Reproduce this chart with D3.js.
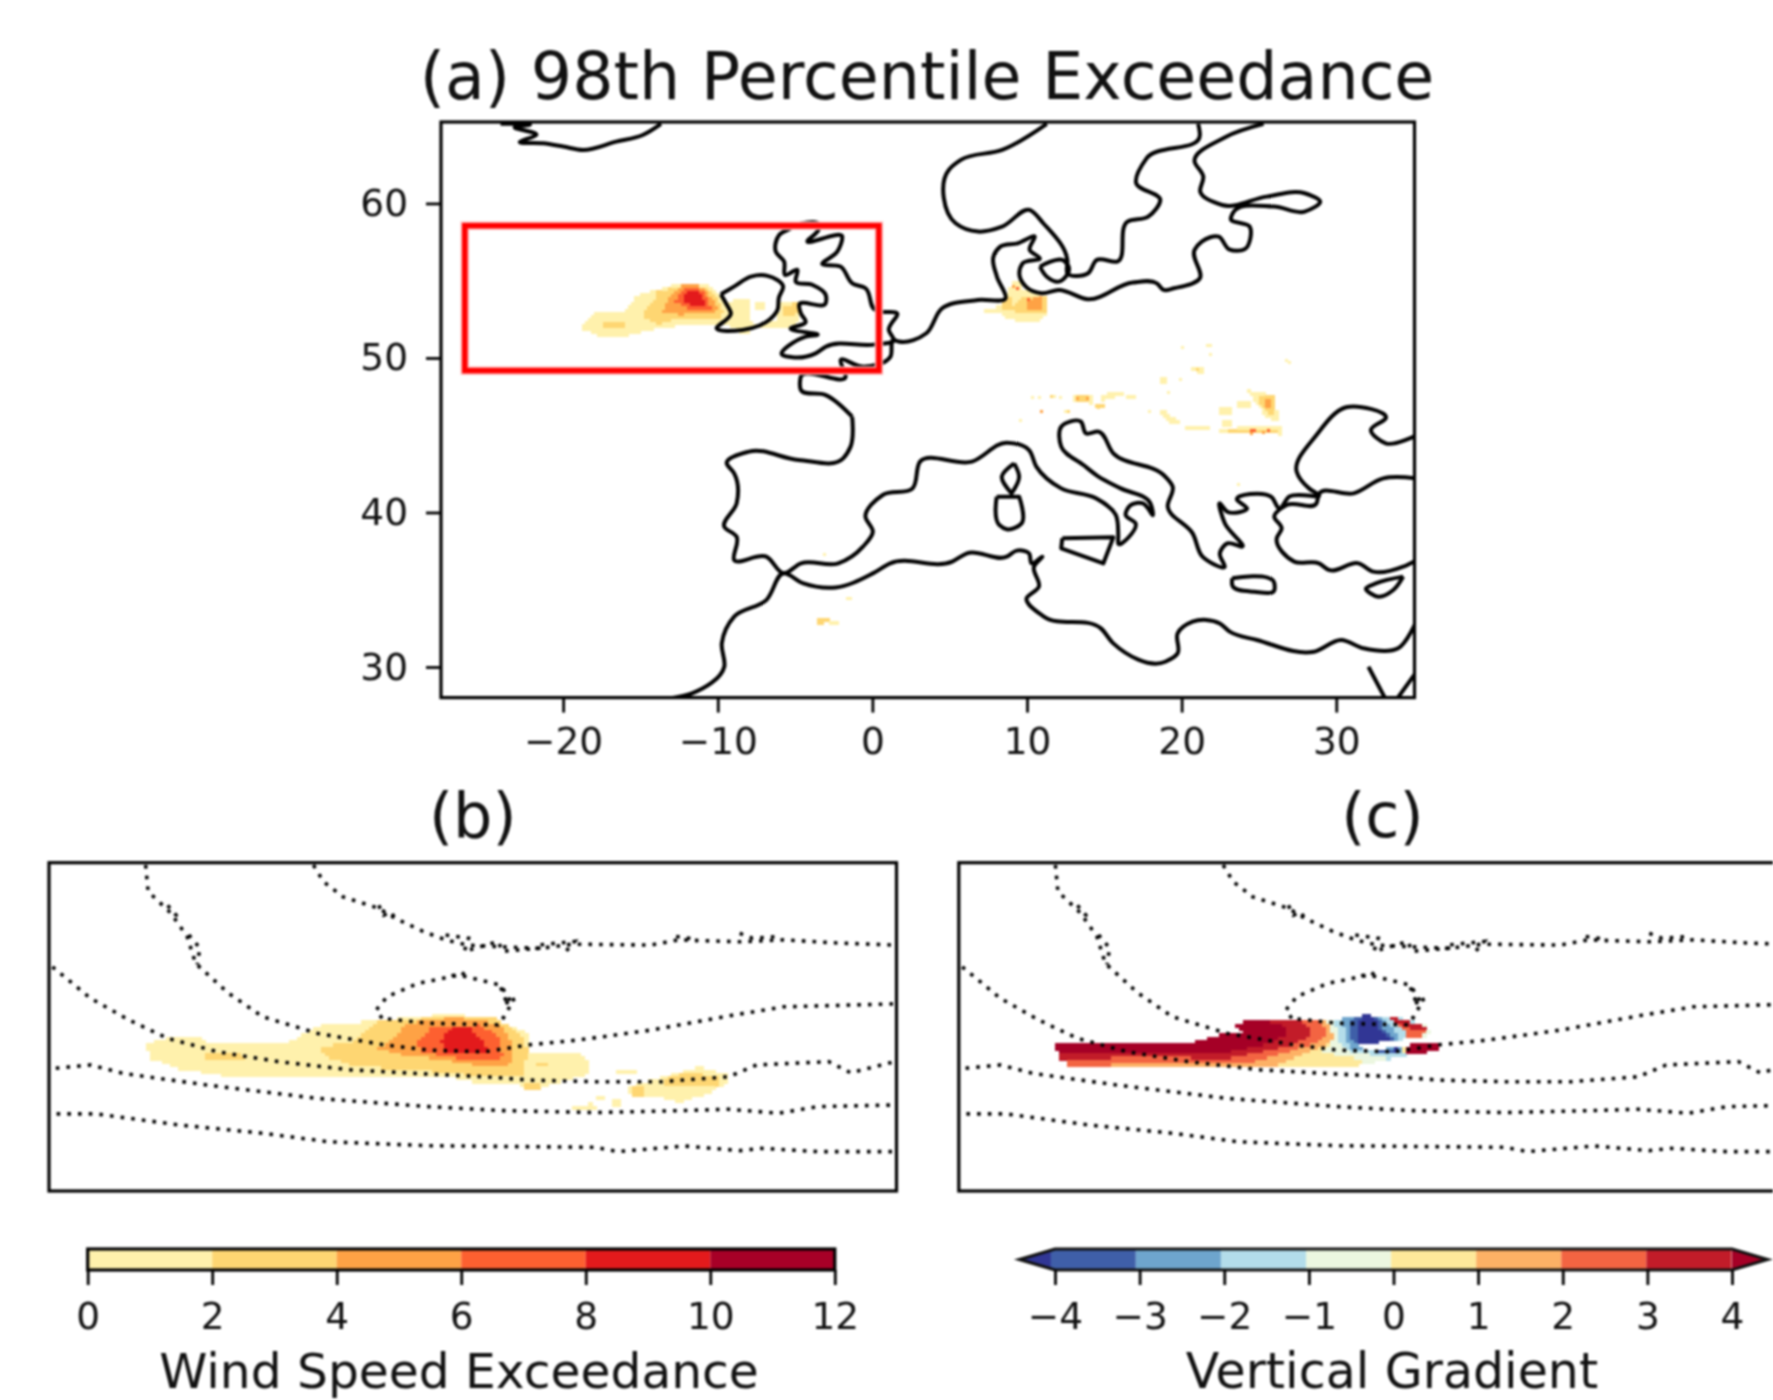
<!DOCTYPE html>
<html>
<head>
<meta charset="utf-8">
<script src="https://cdn.jsdelivr.net/npm/d3@7"></script>
<style>
  html, body { margin: 0; background: #fff; }
  svg { display: block; filter: blur(0.85px); }
  text { font-family: "DejaVu Sans", sans-serif; fill: #111; }
</style>
</head>
<body>
<svg width="1773" height="1400"></svg>
<script>
// ----------------------------------------------------------
//                  data
// ----------------------------------------------------------
const lonTicks = [-20, -10, 0, 10, 20, 30];
const latTicks = [30, 40, 50, 60];
const windBounds = [0, 2, 4, 6, 8, 10, 12];
const windColors = ['#fff1ac', '#fed672', '#fea245', '#fd6030', '#e31a1c', '#a70027'];
const gradBounds = [-4, -3, -2, -1, 0, 1, 2, 3, 4];
const gradColors = ['#3f5fa8', '#6ea5cd', '#b3ddea', '#ecf7e0', '#fee99a', '#fdb165', '#f36442', '#c21c29'];
const gradLow = '#313695';
const gradHigh = '#a50026';
const redBox = { lon: [-26.36, 0.42], lat: [49.18, 58.56] };

// coastlines, lon / lat
const iceland = [[-24.05, 65.15], [-22.16, 65.1], [-23.13, 64.93], [-21.73, 64.45], [-22.8, 63.98], [-21.3, 63.89], [-20, 63.68], [-18.72, 63.46], [-16.57, 64], [-14.85, 64.43], [-13.67, 65.15]];
const ireland = [[-9.8, 54.12], [-8.9, 54.65], [-7.86, 55.26], [-6.78, 55.31], [-5.77, 54.62], [-6.05, 53.9], [-6.14, 53.1], [-6.68, 52.46], [-7.3, 52.1], [-8.4, 51.81], [-10.08, 51.92], [-9.15, 52.9], [-9.45, 53.5], [-9.8, 54.12]];
const britain = [[-4.96, 58.6], [-5.28, 58.39], [-6.03, 57.96], [-6.25, 56.88], [-5.71, 56.24], [-5.65, 55.37], [-4.85, 55.7], [-4.96, 54.94], [-3.88, 54.73], [-3.02, 54.08], [-3.02, 53.54], [-4.74, 53.43], [-4.63, 52.89], [-4.31, 52.35], [-5.28, 51.92], [-3.56, 51.49], [-4.31, 51.38], [-5.82, 50.19], [-5.17, 50.04], [-3.67, 50.3], [-3.02, 50.73], [0.2, 50.88], [1.39, 51.16], [1.06, 51.81], [1.6, 52.89], [0.53, 53], [0.2, 53.1], [-0.44, 54.51], [-1.3, 54.83], [-2.05, 55.91], [-3.24, 56.08], [-2.27, 56.88], [-1.95, 57.85], [-4.2, 57.57], [-3.45, 58.39], [-3.45, 58.6], [-4.96, 58.6]];
const scandinavia = [[11.28, 65.15], [8.39, 63.46], [5.72, 62.82], [4.94, 62.17], [5.38, 58.72], [6.83, 58.18], [8.39, 58.5], [10.17, 59.58], [11.05, 58.72], [12.61, 56.34], [12.61, 55.48], [13.95, 55.48], [14.5, 56.34], [15.84, 56.24], [16.5, 58.82], [17.84, 59.15], [18.62, 60.23], [17.06, 61.3], [17.73, 62.92], [21.18, 64.43], [21.07, 65.15]];
const balticToBiscay = [[25.3, 65.15], [22.85, 64.3], [20.84, 62.7], [21.4, 61.74], [21.2, 60.77], [22.62, 59.9], [25.5, 60.44], [27.96, 60.66], [28.96, 60.12], [27.96, 59.47], [25.96, 59.8], [23.3, 59.36], [23.18, 59.04], [24.4, 58.5], [24.07, 57.03], [23.07, 57.03], [22.4, 57.85], [21.3, 57.53], [20.84, 57], [21.18, 55.16], [19.5, 54.51], [18.84, 54.4], [18.4, 54.83], [16.84, 54.88], [13.95, 53.8], [12.05, 54.4], [10.94, 54.19], [9.94, 54.6], [9.5, 55.48], [9.72, 56.13], [10.83, 56.45], [10.17, 57], [10.5, 57.85], [9.39, 57.42], [8.27, 57.2], [7.83, 56.56], [8.05, 55.27], [8.61, 53.86], [6.83, 53.75], [4.49, 53.2], [3.49, 51.6], [1.71, 51.06], [1.39, 51.16], [1.17, 50.09], [-0.66, 49.44], [-2.05, 49.87], [-1.73, 48.79], [-4.63, 48.79], [-4.63, 47.93], [-3.02, 47.6], [-1.31, 46.2]];
const iberiaToCrimea = [[-1.31, 46.2], [-1.41, 44.26], [-1.89, 43.5], [-4.78, 43.4], [-7.98, 43.94], [-9.42, 43.18], [-8.94, 42.53], [-8.78, 40.59], [-9.58, 39.08], [-8.78, 38.43], [-8.94, 36.92], [-6.86, 37.14], [-5.74, 36.06], [-4.62, 36.71], [-2.21, 36.71], [-0.61, 37.79], [0.03, 38.76], [-0.45, 39.73], [0.67, 41.13], [2.6, 41.56], [3.08, 43.29], [6.44, 43.29], [8.69, 44.52], [10.13, 44.04], [10.6, 42.97], [12.21, 41.56], [14.46, 40.92], [15.74, 39.84], [15.9, 38.54], [15.9, 38], [17.02, 39.3], [16.38, 39.84], [16.7, 40.48], [17.5, 40.59], [18.14, 39.84], [17.98, 40.59], [16.06, 41.56], [14.62, 42.32], [13.65, 43.07], [12.21, 44.26], [12.21, 45.55], [13.49, 45.88], [13.81, 45.12], [14.62, 45.23], [15.58, 43.83], [18.94, 42.32], [19.42, 41.67], [19.1, 40.38], [20.71, 38.65], [21.35, 37.14], [22.79, 36.49], [22.47, 37.36], [22.95, 38], [23.91, 37.79], [22.79, 39.3], [22.47, 40.59], [22.95, 40.05], [24.23, 40.27], [23.59, 40.81], [25.83, 40.98], [26.31, 40.27], [26.95, 41.02], [28.88, 41.13], [28.24, 41.56], [27.44, 42.64], [28.72, 45.01], [30.64, 46.81], [33.2, 46.09], [32.24, 45.34], [33.2, 44.48], [35.2, 45.01]];
const turkey = [[35.2, 42.21], [33.04, 42.21], [31.12, 41.24], [28.88, 41.2], [28.72, 40.59], [26.79, 40.48], [25.99, 39.73], [26.47, 38.97], [26.15, 38.33], [27.28, 36.82], [28.88, 36.71], [29.52, 36.28], [31.44, 36.71], [32.4, 36.17], [34.33, 36.49], [35.2, 36.92]];
const africa = [[-13.11, 27.97], [-11.67, 28.29], [-9.58, 30.02], [-9.74, 31.53], [-8.94, 33.26], [-6.86, 34.33], [-5.74, 36.06], [-4.46, 35.41], [-2.37, 35.15], [0.03, 36.06], [1.15, 36.71], [5.16, 36.82], [6.12, 37.36], [8.69, 37.14], [9.33, 37.53], [10.13, 37.36], [10.29, 36.71], [10.99, 37.14], [10.45, 36.49], [10.77, 35.2], [9.97, 34.44], [11.09, 33.26], [14.78, 32.5], [15.58, 31.53], [18.94, 30.34], [19.74, 30.88], [19.74, 32.18], [20.71, 32.93], [22.47, 32.82], [23.11, 32.29], [24.87, 31.75], [28.56, 30.99], [30.32, 31.75], [31.76, 31.21], [34, 31.21], [35.2, 33]];
const suezWest = [[32.08, 30.02], [33.2, 27.9]];
const suezEast = [[33.9, 27.9], [35.2, 29.7]];
const zealand = [[10.83, 55.91], [12.39, 56.3], [12.72, 55.8], [12.05, 54.94], [11.28, 55.26], [10.83, 55.91]];
const sardinia = [[8.04, 41.02], [8.04, 41.02], [9.49, 41.02], [9.49, 41.02], [9.65, 39.3], [8.69, 38.91], [8.21, 39.19], [8.04, 41.02]];
const corsica = [[9.17, 43.18], [8.37, 42.32], [9, 41.24], [9, 41.24], [9.49, 42.32], [9.17, 43.18]];
const sicily = [[12.28, 38.33], [12.28, 38.33], [15.58, 38.39], [15.58, 38.39], [14.94, 36.71], [14.94, 36.71], [12.21, 37.68], [12.21, 37.68], [12.28, 38.33]];
const crete = [[23.27, 35.74], [26, 35.41], [26, 34.98], [24.71, 34.87], [23.27, 35.3], [23.27, 35.74]];
const cyprus = [[34.33, 35.85], [33.69, 34.98], [32.72, 34.55], [31.92, 35.09], [32.56, 35.41], [34.33, 35.85]];
const coastlines = [iceland, ireland, britain, scandinavia, balticToBiscay, iberiaToCrimea, turkey, africa, suezWest, suezEast, zealand, sardinia, corsica, sicily, crete, cyprus];

// wind speed exceedance on the map: [colour band, outline in lon / lat]
const mapPatches = [
    [0, [[-18.76, 52.24], [-18.76, 51.92], [-17.86, 51.49], [-15.82, 51.49], [-13.77, 52.03], [-11.09, 52.24], [-9.47, 52.24], [-8.19, 51.49], [-7.97, 51.92], [-6.79, 51.92], [-5.39, 52.03], [-4.85, 52.46], [-4.74, 53.64], [-5.92, 53.64], [-6.25, 52.46], [-7.32, 52.13], [-8.08, 52.46], [-8.08, 53.86], [-8.61, 53.86], [-9.47, 53.43], [-9.9, 54.07], [-10.76, 54.83], [-12.59, 54.83], [-13.99, 54.4], [-15.17, 54.07], [-15.92, 53.1], [-18.07, 52.89]]],
    [0, [[-7.6, 53.65], [-7.0, 53.65], [-7.0, 53.2], [-7.6, 53.2]]],
    [1, [[-14.85, 53], [-14.1, 53.75], [-13.99, 54.29], [-12.91, 54.61], [-10.76, 54.61], [-10.12, 53.97], [-9.58, 53.1], [-9.9, 52.67], [-10.98, 52.5], [-12.91, 52.56], [-13.77, 52.24], [-14.85, 52.67]]],
    [1, [[-17.32, 52.35], [-16.03, 52.5], [-16.03, 52.07], [-17.32, 52.03]]],
    [1, [[-5.92, 53.43], [-4.85, 53.53], [-4.91, 52.8], [-5.82, 52.89]]],
    [2, [[-13.52, 53.1], [-13.02, 54.18], [-12.27, 54.79], [-11.3, 54.79], [-10.66, 54.4], [-10.33, 53.75], [-9.95, 53.21], [-10.76, 52.93], [-11.95, 53], [-12.38, 52.78], [-12.8, 53]]],
    [3, [[-12.8, 53.75], [-12.27, 54.51], [-11.19, 54.57], [-10.76, 54.18], [-10.44, 53.15], [-11.73, 53.1], [-12.16, 53.43]]],
    [4, [[-12.23, 54.18], [-11.95, 54.4], [-11.3, 54.4], [-10.98, 53.97], [-10.66, 53.32], [-11.41, 53.32], [-12.23, 53.75]]],
    // German bight
    [0, [[6.94, 53], [8.39, 53.43], [9.05, 54.94], [9.5, 54.94], [9.61, 54.51], [11.05, 53.97], [11.28, 53], [10.72, 52.46], [9.27, 52.46], [8.72, 52.67], [8.16, 53.1]]],
    [1, [[8.27, 53.32], [8.83, 54.18], [9.16, 53.32], [9.72, 54.07], [11.1, 53.92], [11.17, 53.1], [9.94, 52.89], [9.27, 53.1]]],
    [2, [[9.99, 53.86], [11.05, 53.97], [11.05, 53.21], [10.05, 53.1]]],
    // eastern Europe
    [0, [[24.18, 47.93], [25.96, 47.6], [26.18, 45.98], [25.52, 46.2], [24.85, 47.06], [24.4, 47.71]]],
    [1, [[24.96, 47.6], [25.96, 47.55], [26.1, 46.2], [25.6, 46.55], [25.05, 47.06]]],
    [2, [[25.4, 47.45], [25.85, 47.45], [25.85, 46.74], [25.4, 46.74]]],
    [0, [[18.46, 46.63], [18.94, 46.52], [19.9, 45.88], [19.26, 45.77]]],
    [0, [[20.22, 45.66], [21.83, 45.66], [21.83, 45.4], [20.22, 45.4]]],
    [0, [[22.3, 45.45], [26.3, 45.6], [26.3, 45.1], [22.3, 45.15]]],
    [1, [[23, 45.42], [26.2, 45.5], [26.2, 45.15], [23, 45.2]]],
    [0, [[23.5, 47.3], [24.5, 47.1], [24.3, 46.75], [23.5, 46.85]]],
    [0, [[18.5, 48.9], [19, 48.9], [19, 48.4], [18.5, 48.4]]],
    [0, [[12.9, 47.7], [14.1, 47.7], [14.1, 47.1], [12.9, 47.2]]],
    [1, [[13.1, 47.65], [13.9, 47.65], [13.9, 47.25], [13.1, 47.3]]],
    [0, [[14.8, 47.6], [16.2, 47.9], [16.1, 47.65], [14.9, 47.25]]],
    [0, [[20.5, 49.55], [21.4, 49.3], [21.4, 49.0], [20.5, 49.2]]],
    [0, [[22.4, 46.85], [23.1, 46.85], [23.1, 46.4], [22.4, 46.4]]],
    [0, [[22.6, 46.1], [23.1, 46.1], [23.1, 45.7], [22.6, 45.7]]],
    [1, [[14.3, 47.0], [14.9, 47.0], [14.9, 46.75], [14.3, 46.75]]],
    [0, [[16.4, 47.7], [16.9, 47.7], [16.9, 47.45], [16.4, 47.45]]],
    // north Africa
    [1, [[-3.56, 33.26], [-2.85, 33.26], [-2.85, 32.95], [-3.56, 32.82]]],
    [0, [[-2.85, 33.1], [-2.2, 33.1], [-2.2, 32.9], [-2.85, 32.9]]]
];
// single map cells: lon, lat, colour band
const mapCells = [
    [19.95, 50.77, 0], [21.58, 50.88, 0], [21.76, 50.88, 0], [21.74, 50.3, 0], [26.85, 49.8, 0], [26.7, 49.95, 0],
    [20.9, 49.33, 1], [19.84, 48.68, 0], [19.07, 47.88, 0], [10.28, 47.54, 0], [10.72, 47.54, 0], [11.5, 47.6, 1], [11.7, 47.6, 0],
    [12.05, 47.54, 0], [13.17, 47.49, 2], [13.84, 47.49, 2], [14.5, 46.89, 1], [10.83, 46.63, 2], [12.61, 46.63, 1], [12.41, 46.63, 0],
    [9.5, 46.03, 0], [17.84, 46.63, 0], [23.6, 41.9, 0], [-3.17, 37.36, 0], [-1.73, 34.55, 0], [-1.53, 34.55, 0],
    [24.4, 45.4, 3], [24.6, 45.4, 3], [25.5, 45.4, 3], [24.4, 45.2, 2], [25.2, 45.3, 2], [9.3, 54.6, 3], [10.0, 53.9, 3], [9.0, 54.7, 2]
];

// wind speed exceedance in the section, percent of frame width / height from top
const sectionWind = [
    [0, [[11.4, 55], [14.4, 53], [17.6, 53], [18.6, 55], [28.4, 54.5], [32.1, 49.4], [38.3, 48.2], [47.4, 45.9], [51.4, 47.4], [56.6, 52], [56.6, 58.1], [62.2, 58.1], [63.8, 61.1], [63.5, 64.4], [60.5, 66.2], [59.2, 67.2], [57.3, 68.7], [55.3, 67.2], [51.4, 67.2], [47.4, 65.2], [38.3, 64.7], [21.9, 65], [15.4, 62.6], [12.1, 59.6]]],
    [0, [[68.4, 68.2], [72.3, 65.2], [76.6, 62.1], [79.9, 64.2], [79.9, 67.2], [76.9, 70.8], [74.3, 72.8], [72.3, 71.3], [69.7, 71.3], [68.4, 69.7]]],
    [0, [[60.9, 74.8], [63.8, 73.3], [64.5, 74.5], [61.8, 75.1]]],
    [0, [[67, 62.8], [69, 62.8], [69, 63.8], [67, 63.8]]],
    [0, [[64.5, 71], [65.5, 71], [65.5, 72], [64.5, 72]]],
    [0, [[66.5, 72.5], [67.5, 72.5], [67.5, 74], [66.5, 74]]],
    [1, [[72.3, 66.2], [75.3, 63.7], [78.9, 65.2], [78.9, 68.2], [76.9, 68.4], [72.3, 67.7]]],
    [1, [[68.7, 68.2], [70.3, 68.2], [70.3, 70.8], [68.7, 70.8]]],
    [1, [[18.6, 58.1], [22.6, 57.6], [23.2, 60.1], [18.6, 60.1]]],
    [1, [[32.1, 56], [35.7, 54.5], [38.9, 48.4], [47.4, 46.9], [52.7, 47.4], [55.6, 52], [56.6, 57.1], [56, 62.1], [56.3, 65.2], [52, 65.2], [44.8, 63.4], [36.3, 62.1], [32.4, 59.1]]],
    [1, [[56, 67.2], [57.9, 67.2], [57.9, 68.7], [56, 68.7]]],
    [1, [[57.6, 61.1], [59, 61.1], [59, 62.1], [57.6, 62.1]]],
    [2, [[38.9, 56.5], [40.9, 53], [42.2, 48.9], [47.4, 47.2], [50.7, 47.9], [53.3, 49.4], [54.5, 54], [54.8, 59.5], [54.2, 61.6], [50, 61.6], [46.8, 60.1], [41.5, 58.6]]],
    [3, [[43.2, 54.9], [45, 50.4], [50.9, 49.4], [53, 53], [53.2, 56.1], [53.6, 59.2], [52.9, 60], [48.1, 59.5], [44.1, 57.7]]],
    [4, [[46.3, 54], [47.7, 50.4], [49.7, 50.4], [51.7, 56.1], [51.8, 58], [46.9, 57.7]]]
];

// vertical gradient in the section: outline, then bands painted over each other
const gradOutline = [[11.34, 56], [11.65, 55.2], [26.83, 55.2], [28.69, 53.8], [31.16, 52], [33.33, 51.5], [32.28, 49.3], [33.95, 48.3], [38.6, 48.2], [46.03, 47.4], [47.89, 46.4], [50.37, 46.9], [52.23, 47.4], [53.78, 48.4], [55.02, 49.4], [55.64, 51.5], [55.02, 52.8], [53.22, 53], [51.3, 54], [49.32, 54.5], [47.15, 55], [47.52, 56.5], [49.32, 57.1], [51.67, 56], [52.85, 55.8], [55.02, 54.7], [56.88, 54.8], [56.57, 56.5], [54.71, 57.9], [52.85, 58.1], [52.23, 58.9], [50.37, 59.9], [48.51, 60.6], [47.15, 61.5], [13.07, 61.6], [12.7, 60.3], [11.65, 59.9], [11.65, 57.1]];
const gradBands = [
    [7, [[11.65, 58.1], [20.63, 57.6], [31.16, 58.1], [36.74, 55], [38.6, 52.5], [38.6, 49.9], [36.12, 47.9], [60.9, 44.9], [60.9, 67.2], [11.34, 67.2]]],
    [6, [[11, 60.3], [13.82, 60.3], [18.77, 59.3], [31.78, 59.6], [38.6, 56], [41.08, 53.5], [41.7, 51], [39.84, 47.4], [60.9, 44.9], [60.9, 67.2], [11, 67.2]]],
    [5, [[17.5, 67.2], [18.15, 61.1], [34.57, 60.6], [38.6, 58.1], [42.32, 54.5], [43.56, 51.5], [42.63, 47.4], [60.9, 44.9], [60.9, 67.2]]],
    [4, [[37.36, 62.1], [39.84, 59.1], [43.56, 55.5], [45.1, 52.5], [44.05, 47.4], [60.9, 44.9], [60.9, 67.2], [37.36, 67.2]]],
    [3, [[43.2, 46], [44, 51], [44.2, 53.5], [43, 58], [47.15, 59.6], [48, 62], [60, 62], [60, 46]]],
    [2, [[43.8, 46.9], [44.8, 51], [45, 55], [45.8, 56.5], [46.2, 58.3], [49.5, 58.6], [50.9, 60.1], [54, 60], [54, 46]]],
    [1, [[44.8, 46.9], [45.6, 51], [46, 55], [46.4, 56.5], [49.3, 57.5], [50.9, 58.6], [52.1, 57.6], [52.85, 56], [52.1, 53.8], [51.3, 51], [50.5, 48.4], [49.5, 45.9]]],
    [0, [[45.96, 48.4], [45.96, 50.97], [46.36, 53.5], [47.15, 55.2], [49.31, 55], [51.67, 54], [50.1, 50.97], [49.9, 48.4], [49.11, 46.4], [47.74, 46.4]]],
    [0, [[49.31, 57.05], [51.67, 56.55], [52.06, 57.9], [49.5, 58.1]]],
    [-1, [[47.15, 48.4], [46.95, 50.97], [47.15, 55], [49.31, 54.5], [51.08, 54], [49.7, 50.97], [49.5, 48.4], [48.7, 46.4], [47.74, 46.4]]],
    [-1, [[51.3, 56], [51.9, 56], [51.9, 57.6], [51.3, 57.6]]],
    [5, [[49.9, 46.4], [50.5, 46.4], [50.5, 47.4], [49.9, 47.4]]],
    [6, [[50.49, 47.7], [51.67, 47.1], [52.85, 48.4], [54.62, 49.4], [55.2, 51], [54.8, 52.8], [53, 53], [52.5, 50.5], [51.67, 48.9]]],
    [7, [[50.9, 47.4], [51.67, 47.1], [52.85, 48.4], [54.62, 49.4], [55.2, 50.8], [53.5, 50.8], [52.85, 50], [51.67, 48.9]]],
    [4, [[52.3, 55.5], [52.85, 55.5], [52.85, 57.8], [52.3, 57.8]]],
    [8, [[52.85, 55.5], [56.9, 54.5], [56.6, 56.5], [55, 57.6], [52.85, 57.6]]],
    [6, [[53.6, 54.9], [56.9, 54.5], [56.9, 54.9], [53.6, 55.4]]]
];

// dotted contours in the two section panels, same percent coordinates
const contourA = [[31.2, 0.7], [32.4, 5.8], [34.7, 10.4], [38.9, 13.9], [40.9, 17], [44.2, 21], [46.8, 23.5], [49.4, 25.1], [53.3, 25.6], [57.9, 26.1], [61.8, 24.8], [71, 25.1], [74.3, 23.5], [81.5, 24.1], [86.7, 23.5], [92.6, 24.4], [99.8, 25.1]];
const contourB = [[11.4, 0.7], [11.7, 8.8], [14.4, 15.4], [16.3, 22.5], [17.3, 30.7], [21.2, 39.8], [25.2, 46.9], [31.7, 52], [39.6, 55.5], [44.8, 57.1], [51.4, 57.6], [56.6, 55.5], [62.5, 54], [71, 51], [80.8, 46.4], [86.7, 43.9], [94, 43.4], [99.8, 43]];
const contourC = [[0.4, 31.7], [4.9, 41.3], [9.5, 48], [14, 53.5], [19.9, 57.6], [27.1, 60.6], [35.6, 63.1], [44.8, 64.4], [51.4, 65.2], [56.6, 66.2], [64.5, 66.7], [72.3, 66.7], [80.2, 65.2], [83.5, 61.6], [92, 60.6], [94.6, 64], [99.8, 60.6]];
const contourD = [[0.8, 62.6], [4.9, 61.6], [8.8, 64.2], [18.6, 67.7], [31.7, 71.8], [44.8, 74.3], [53.3, 75.5], [64.5, 76.1], [75, 75.5], [80.2, 75.1], [86.1, 76.3], [90.7, 74.3], [99.8, 73.8]];
const contourE = [[0.9, 76.5], [5.5, 76.5], [15.4, 79.9], [25.2, 82.4], [33, 85], [44.8, 86.2], [64.5, 86.7], [67.1, 88], [75, 86.3], [81.5, 87.7], [84.1, 87], [90.7, 88], [99.8, 88]];
const contourF = [[39.3, 47.4], [38.6, 44.9], [39.9, 40.8], [43.5, 36.8], [48.4, 34.2], [53.3, 37.3], [54.6, 42.8], [53.7, 46.9], [53, 49.4], [44.8, 48.9], [39.3, 47.4]];
// the rough bits along those contours
const contourBits = [
    [[38.9, 13], [39.5, 16], [40.4, 15], [41, 18]],
    [[46.8, 22], [49.5, 23], [49, 27], [53, 24], [53.5, 27], [58, 26]],
    [[58, 25], [62, 24], [61, 27]],
    [[14, 13], [15, 16], [14.5, 18]],
    [[16.5, 22], [17.8, 26], [17.5, 31]],
    [[47.5, 34.5], [48.7, 33.5], [49.5, 35]],
    [[53.3, 38], [54, 42.5], [55, 41.5], [53.7, 43]],
    [[81.5, 21.5], [83, 23], [86, 22.5]],
    [[74, 22.5], [75.5, 23], [76.5, 24]]
];
const contours = [contourA, contourB, contourC, contourD, contourE, contourF].concat(contourBits);

// ----------------------------------------------------------
//                          scales
// ----------------------------------------------------------
const svg = d3.select('svg');

const xMap = d3.scaleLinear().domain([-27.9, 35.06]).range([441, 1414.5]);
const yMap = d3.scaleLinear().domain([28.02, 65.27]).range([697.6, 122]);

const xSectionB = d3.scaleLinear().domain([0, 100]).range([49, 896.5]);
const xSectionC = d3.scaleLinear().domain([0, 100]).range([958.8, 1806]);
const ySection = d3.scaleLinear().domain([0, 100]).range([862.7, 1191]);

const xWind = d3.scaleLinear().domain([0, 12]).range([87.7, 834.8]);
const xGrad = d3.scaleLinear().domain([-4, 4]).range([1055, 1732]);
const xGradFill = d3.scaleLinear().domain([-4, 4]).range([1050.7, 1731.5]);
const barTop = 1249;
const barBottom = 1270;
const gradTip = 0.42;

// ----------------------------------------------------------
//                 helper: polygons onto a grid
// ----------------------------------------------------------
function rasterise(bands, x0, x1, dx, y0, y1, dy, outline) {
    const cells = [];
    for (let x = x0; x < x1; x += dx) {
        for (let y = y0; y < y1; y += dy) {
            const p = [x + dx / 2, y + dy / 2];
            if (outline && !d3.polygonContains(outline, p)) continue;
            let band = outline ? 8 : null;
            bands.forEach((b) => {
                if (d3.polygonContains(b[1], p)) band = b[0];
            });
            if (band !== null) cells.push({ x: x, y: y, band: band });
        }
    }
    return cells;
}

function panelClip(id, x, y, w, h) {
    svg.append('clipPath').attr('id', id).append('rect')
        .attr('x', x).attr('y', y).attr('width', w).attr('height', h);
}

function axisStyle(g) {
    g.select('.domain').remove();
    g.selectAll('line').attr('stroke', '#000').attr('stroke-width', 2.8);
    g.selectAll('text').attr('font-size', 37.5).style('font-family', '"DejaVu Sans"');
}

const minus = (d) => String(d).replace('-', '\u2212');
const windFill = (d) => windColors[d];
const gradFill = (d) => (d === -1 ? gradLow : d === 8 ? gradHigh : gradColors[d]);

// ----------------------------------------------------------
//                        (a) the map
// ----------------------------------------------------------
panelClip('clipMap', 441, 122, 973.5, 575.6);
const map = svg.append('g').attr('clip-path', 'url(#clipMap)');

const mapGrid = rasterise(mapPatches, -19, 27, 0.2, 32, 56, 0.2);
map.append('g').attr('shape-rendering', 'crispEdges').selectAll('rect')
    .data(mapGrid)
    .join('rect')
    .attr('x', (d) => xMap(d.x))
    .attr('y', (d) => yMap(d.y + 0.2))
    .attr('width', xMap(0.2) - xMap(0) + 1)
    .attr('height', yMap(0) - yMap(0.2) + 1)
    .attr('fill', (d) => windFill(d.band));

map.append('g').attr('shape-rendering', 'crispEdges').selectAll('rect')
    .data(mapCells)
    .join('rect')
    .attr('x', (d) => xMap(d[0]))
    .attr('y', (d) => yMap(d[1]))
    .attr('width', xMap(0.2) - xMap(0))
    .attr('height', yMap(0) - yMap(0.2))
    .attr('fill', (d) => windFill(d[2]));

const coastPath = d3.line().x((d) => xMap(d[0])).y((d) => yMap(d[1])).curve(d3.curveCatmullRom.alpha(1));
map.append('g').selectAll('path')
    .data(coastlines)
    .join('path')
    .attr('d', coastPath)
    .attr('fill', 'none')
    .attr('stroke', '#000')
    .attr('stroke-width', 4)
    .attr('stroke-linejoin', 'round');

svg.append('rect')
    .attr('x', 441).attr('y', 122).attr('width', 973.5).attr('height', 575.6)
    .attr('fill', 'none').attr('stroke', '#000').attr('stroke-width', 3.2);

svg.append('g')
    .attr('transform', 'translate(0,697.6)')
    .call(d3.axisBottom(xMap).tickValues(lonTicks).tickFormat(minus).tickSize(15).tickPadding(15))
    .call(axisStyle);
svg.append('g')
    .attr('transform', 'translate(441,0)')
    .call(d3.axisLeft(yMap).tickValues(latTicks).tickSize(15).tickPadding(18))
    .call(axisStyle);

[['#ffbcbc', 8.5], ['#ff0000', 5.5]].forEach((s) => {
    svg.append('rect')
        .attr('x', xMap(redBox.lon[0]))
        .attr('y', yMap(redBox.lat[1]))
        .attr('width', xMap(redBox.lon[1]) - xMap(redBox.lon[0]))
        .attr('height', yMap(redBox.lat[0]) - yMap(redBox.lat[1]))
        .attr('fill', 'none')
        .attr('stroke', s[0])
        .attr('stroke-width', s[1]);
});

svg.append('text').attr('x', 927).attr('y', 99).attr('text-anchor', 'middle')
    .attr('font-size', 65).text('(a) 98th Percentile Exceedance');

// ----------------------------------------------------------
//                 (b) and (c) the two sections
// ----------------------------------------------------------
function drawSection(id, xScale, cells, fill, title) {
    const left = xScale(0);
    const wide = xScale(100) - left;
    const top = ySection(0);
    const high = ySection(100) - top;
    panelClip(id, left, top, wide, high);
    const g = svg.append('g').attr('clip-path', `url(#${id})`);

    g.append('g').attr('shape-rendering', 'crispEdges').selectAll('rect')
        .data(cells)
        .join('rect')
        .attr('x', (d) => xScale(d.x))
        .attr('y', (d) => ySection(d.y))
        .attr('width', xScale(0.47) - xScale(0) + 1)
        .attr('height', ySection(1) - ySection(0) + 1)
        .attr('fill', (d) => fill(d.band));

    const contourPath = d3.line().x((d) => xScale(d[0])).y((d) => ySection(d[1]));
    g.append('g').selectAll('path')
        .data(contours)
        .join('path')
        .attr('d', contourPath)
        .attr('fill', 'none')
        .attr('stroke', '#000')
        .attr('stroke-width', 3.6)
        .attr('stroke-dasharray', '3.6 7.1');

    svg.append('rect')
        .attr('x', left).attr('y', top).attr('width', wide).attr('height', high)
        .attr('fill', 'none').attr('stroke', '#000').attr('stroke-width', 3.2);

    svg.append('text').attr('x', left + wide / 2).attr('y', 837).attr('text-anchor', 'middle')
        .attr('font-size', 62).text(title);
}

drawSection('clipB', xSectionB, rasterise(sectionWind, 10, 82, 0.47, 44, 78, 1), windFill, '(b)');
drawSection('clipC', xSectionC, rasterise(gradBands, 10, 60, 0.47, 44, 64, 1, gradOutline), gradFill, '(c)');

// ----------------------------------------------------------
//                         colour bars
// ----------------------------------------------------------
svg.append('g').selectAll('rect')
    .data(windColors)
    .join('rect')
    .attr('x', (d, i) => xWind(windBounds[i]))
    .attr('y', barTop)
    .attr('width', (d, i) => xWind(windBounds[i + 1]) - xWind(windBounds[i]))
    .attr('height', barBottom - barTop)
    .attr('fill', (d) => d);
svg.append('rect')
    .attr('x', xWind(0)).attr('y', barTop)
    .attr('width', xWind(12) - xWind(0)).attr('height', barBottom - barTop)
    .attr('fill', 'none').attr('stroke', '#000').attr('stroke-width', 3.2);
svg.append('g')
    .attr('transform', `translate(0,${barBottom})`)
    .call(d3.axisBottom(xWind).tickValues(windBounds).tickSize(15).tickPadding(17))
    .call(axisStyle);
svg.append('text').attr('x', 459).attr('y', 1388).attr('text-anchor', 'middle')
    .attr('font-size', 48.7).text('Wind Speed Exceedance');

const barMid = (barTop + barBottom) / 2;
const tipPath = d3.line();
const lowEnd = [[-4, barTop], [-4 - gradTip, barMid], [-4, barBottom]];
const highEnd = [[4, barTop], [4 + gradTip, barMid], [4, barBottom]];
const toGradPoint = (p) => [xGrad(p[0]), p[1]];
svg.append('path').attr('d', tipPath(lowEnd.map(toGradPoint)) + 'Z').attr('fill', gradLow);
svg.append('path').attr('d', tipPath(highEnd.map(toGradPoint)) + 'Z').attr('fill', gradHigh);
svg.append('g').selectAll('rect')
    .data(gradColors)
    .join('rect')
    .attr('x', (d, i) => xGradFill(gradBounds[i]))
    .attr('y', barTop)
    .attr('width', (d, i) => xGradFill(gradBounds[i + 1]) - xGradFill(gradBounds[i]))
    .attr('height', barBottom - barTop)
    .attr('fill', (d) => d);
const outlinePts = [[-4 - gradTip, barMid], [-4, barTop], [4, barTop], [4 + gradTip, barMid], [4, barBottom], [-4, barBottom]];
svg.append('path')
    .attr('d', tipPath(outlinePts.map(toGradPoint)) + 'Z')
    .attr('fill', 'none').attr('stroke', '#111').attr('stroke-width', 3.2);
svg.append('g')
    .attr('transform', `translate(0,${barBottom})`)
    .call(d3.axisBottom(xGrad).tickValues(gradBounds).tickFormat(minus).tickSize(15).tickPadding(17))
    .call(axisStyle);
svg.append('text').attr('x', 1392).attr('y', 1388).attr('text-anchor', 'middle')
    .attr('font-size', 49).text('Vertical Gradient');
</script>
</body>
</html>
